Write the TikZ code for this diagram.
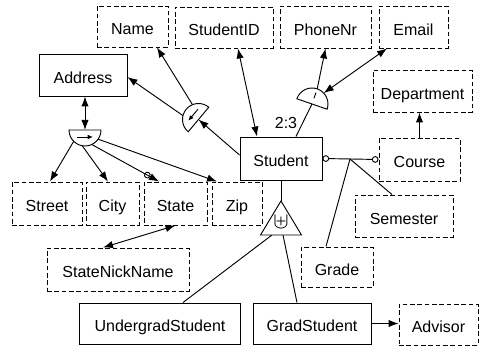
\documentclass[tikz,border=0pt]{standalone}
\usepackage{fontspec}
\setmainfont{Liberation Sans}
\usetikzlibrary{arrows.meta,calc}

\tikzset{
  ent/.style={draw,line width=0.7pt,inner sep=0pt,text height=12.5pt,text depth=0pt},
  att/.style={ent,dash pattern=on 3.5pt off 2pt},
  wh/.style 2 args={minimum width=#1*0.75pt,minimum height=#2*0.75pt},
  lnk/.style={line width=0.7pt},
  arr/.style={lnk,-{Latex[length=7.5pt,width=5.5pt]}},
  arr2/.style={lnk,{Latex[length=7.5pt,width=5.5pt]}-{Latex[length=7.5pt,width=5.5pt]}},
  small/.style={lnk,-{Latex[length=4pt,width=3.5pt]}},
}

\begin{document}
\begin{tikzpicture}[x=0.75pt,y=0.75pt,yscale=-1,xscale=1,font=\fontsize{12}{14}\selectfont]
\useasboundingbox (0,0) rectangle (479,348);

% Entities and attributes
\node[att,wh={71}{41}] (name) at (132.5,26.5) {Name};
\node[att,wh={98}{41}] (sid) at (224,27.5) {StudentID};
\node[att,wh={91}{42}] (phone) at (325.5,27) {PhoneNr};
\node[att,wh={69}{42}] (email) at (413.5,27) {Email};
\node[ent,wh={88}{42}] (addr) at (83,75) {Address};
\node[att,wh={99}{42}] (dept) at (422.5,91) {Department};
\node[ent,wh={82}{43}] (stud) at (281,158.5) {Student};
\node[att,wh={81}{43}] (course) at (419.5,159.5) {Course};
\node[att,wh={98}{42}] (sem) at (404,216) {Semester};
\node[att,wh={72}{40}] (grade) at (337,267) {Grade};
\node[att,wh={70}{43}] (street) at (47,203.5) {Street};
\node[att,wh={53}{43}] (city) at (112.5,203.5) {City};
\node[att,wh={63}{43}] (state) at (175.5,203.5) {State};
\node[att,wh={50}{43}] (zip) at (237,203.5) {Zip};
\node[att,wh={142}{43}] (nick) at (118,269.5) {StateNickName};
\node[ent,wh={161}{41}] (ugrad) at (160,323.5) {UndergradStudent};
\node[ent,wh={118}{41}] (grad) at (312,323.5) {GradStudent};
\node[att,wh={79}{41}] (adv) at (438.5,324.5) {Advisor};
% Text Node
\node[inner sep=0pt] (ratio) at (286,122.5) {2:3};

% symbol centres
\coordinate (cA) at (198.5,119.5);
\coordinate (cP) at (312,104);
\coordinate (cS) at (85,130);
\coordinate (isa) at (281,201);
\coordinate (jn) at (350,159);

%Straight Lines
\draw[arr2] ($(sid.south)+(14,0)$) -- ($(stud.north)+(-24,0)$);
\draw[arr] ($(stud.west)+(0,-3.5)$) -- (cA);
\draw[arr] ($(cA)+(248:16)$) -- ($(name.south)+(24.5,0)$);
\draw[arr] ($(cA)+(194:16)$) -- ($(addr.east)+(0,2)$);
\draw[lnk] ($(stud.north)+(15,0)$) -- (cP);
\draw[arr] ($(cP)+(289:16)$) -- (phone.south);
\draw[arr2] ($(email.south)+(-26.5,0)$) -- ($(cP)+(317:16)$);
\draw[arr2] ($(addr.south)+(2,0)$) -- (cS);
\draw[arr] ($(cS)+(135:16)$) -- ($(street.north)+(3,0)$);
\draw[arr] ($(cS)+(100:16)$) -- ($(city.north)+(-4.5,0)$);
\draw[lnk,-{Circle[open,length=5pt] Latex[length=7.5pt,width=5.5pt]}] ($(cS)+(65:16)$) -- ($(state.north)+(-16.5,0)$);
\draw[arr] ($(cS)+(35:16)$) -- ($(zip.north)+(-20,0)$);
\draw[arr2] (state.south) -- ($(nick.north)+(-15,0)$);
\draw[lnk] (stud.south) -- (isa);
\draw[lnk] ($(isa)+(-9,34)$) -- ($(ugrad.north)+(23,0)$);
\draw[lnk] ($(isa)+(2,34)$) -- ($(grad.north)+(-15,0)$);
\draw[lnk,{Circle[open,length=5pt]}-{Circle[open,length=5pt]}] (stud.east) -- (course.west);
\draw[lnk] ($(grade.north)+(-11,0)$) -- (jn) -- ($(sem.north)+(-12,0)$);
\draw[arr] (course.north) -- (course.north |- dept.south);
\draw[arr] (grad.east) -- (grad.east -| adv.west);

%Shape: Half disc (Name, Address)
\draw[lnk,fill=white] ($(cA)+(130:16)$) arc[start angle=130,end angle=310,radius=16] -- cycle;
\draw[small] ($(cA)+(220:7)+(310:7.5)$) -- ($(cA)+(220:7)+(130:7.5)$);
%Shape: Half disc (Street, City, State, Zip)
\draw[lnk,fill=white] ($(cS)+(0:16)$) arc[start angle=0,end angle=180,radius=16] -- cycle;
\draw[small] ($(cS)+(90:7)+(180:8)$) -- ($(cS)+(90:7)+(0:8)$);
%Shape: Half disc (PhoneNr)
\draw[lnk,fill=white] ($(cP)+(199:16)$) arc[start angle=199,end angle=379,radius=16] -- cycle;
\draw[lnk] ($(cP)+(289:6)$) -- ($(cP)+(289:12)$);

%Shape: Triangle (ISA)
\draw[lnk,fill=white] (isa) -- ++(-20.5,34) -- ++(41,0) -- cycle;
\node[inner sep=0pt,font=\fontsize{19}{20}\selectfont] (uplus) at (281,222) {$\uplus$};

\end{tikzpicture}
\end{document}
